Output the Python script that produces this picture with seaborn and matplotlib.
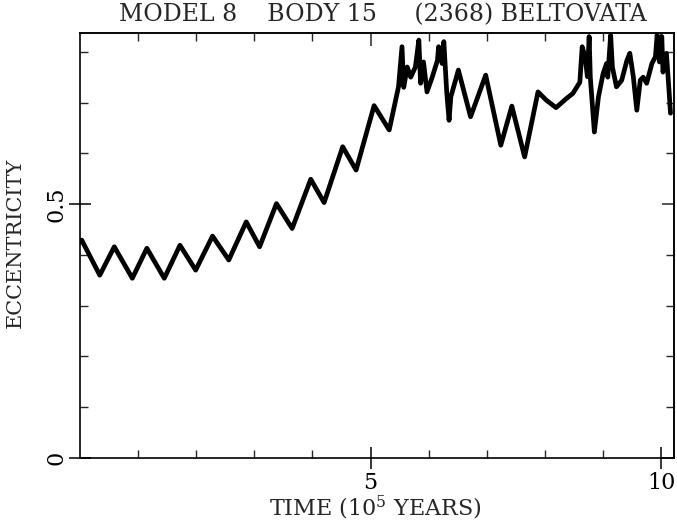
import numpy as np
import pandas as pd
import matplotlib
matplotlib.use("Agg")
import matplotlib.pyplot as plt
import seaborn as sns

# ---- data ----
time = [0.00, 0.03, 0.34, 0.59, 0.90, 1.15, 1.45, 1.72, 1.99, 2.28, 2.56, 2.86,
        3.09, 3.38, 3.65, 3.97, 4.20, 4.52, 4.75, 5.06, 5.32, 5.48, 5.54, 5.57,
        5.63, 5.69, 5.77, 5.83, 5.86, 5.91, 5.97, 6.06, 6.15, 6.17, 6.23, 6.26,
        6.31, 6.35, 6.38, 6.51, 6.72, 6.98, 7.24, 7.43, 7.65, 7.88, 8.02, 8.19,
        8.37, 8.48, 8.60, 8.64, 8.69, 8.73, 8.76, 8.78, 8.85, 8.92, 9.00, 9.06,
        9.08, 9.13, 9.16, 9.23, 9.32, 9.41, 9.46, 9.52, 9.58, 9.64, 9.69, 9.75,
        9.84, 9.90, 9.93, 9.97, 10.01, 10.03, 10.09, 10.13, 10.16]
eccentricity = [0.425, 0.429, 0.360, 0.416, 0.354, 0.413, 0.354, 0.419, 0.370, 0.437, 0.390, 0.465,
                0.416, 0.501, 0.452, 0.549, 0.503, 0.613, 0.567, 0.694, 0.646, 0.731, 0.810, 0.730,
                0.770, 0.750, 0.770, 0.823, 0.738, 0.780, 0.721, 0.750, 0.783, 0.810, 0.777, 0.820,
                0.720, 0.665, 0.711, 0.764, 0.672, 0.754, 0.616, 0.693, 0.593, 0.721, 0.705, 0.690,
                0.708, 0.718, 0.740, 0.810, 0.790, 0.751, 0.830, 0.750, 0.642, 0.711, 0.757, 0.777,
                0.750, 0.833, 0.770, 0.731, 0.744, 0.783, 0.797, 0.751, 0.685, 0.744, 0.750, 0.738,
                0.777, 0.790, 0.833, 0.780, 0.830, 0.760, 0.797, 0.731, 0.679]

x_major = [5, 10]
x_major_labels = ["5", "10"]
x_minor = [1, 2, 3, 4, 6, 7, 8, 9]
y_major = [0.0, 0.5]
y_major_labels = ["0", "0.5"]
y_minor = [0.1, 0.2, 0.3, 0.4, 0.6, 0.7, 0.8]

title = "MODEL 8    BODY 15     (2368) BELTOVATA"
xlabel = r"TIME (10$^{\mathrm{5}}$ YEARS)"
ylabel = "ECCENTRICITY"

df = pd.DataFrame({"time": time, "ecc": eccentricity})

sns.set_theme(style="ticks")
plt.rcParams["font.family"] = ["DejaVu Serif"]
plt.rcParams["mathtext.fontset"] = "dejavuserif"

W, H = 677, 528
fig = plt.figure(figsize=(W / 100, H / 100), dpi=100)
ax = fig.add_axes([80 / W, 70 / H, 594 / W, 425 / H])

sns.lineplot(data=df, x="time", y="ecc", color="black", linewidth=3.4,
             sort=False, estimator=None, ax=ax)
for ln in ax.get_lines():
    ln.set_solid_joinstyle("round")

ax.set_xlim(0, 10.22)
ax.set_ylim(0, 0.837)

# bottom / left: labelled axes, major ticks crossing the frame
ax.set_xticks(x_major)
ax.set_xticklabels(x_major_labels)
ax.set_xticks(x_minor, minor=True)
ax.set_yticks(y_major)
ax.set_yticklabels(y_major_labels, rotation=90, va="center")
ax.set_yticks(y_minor, minor=True)
ax.tick_params(which="major", direction="inout", length=16, width=1.1,
               labelsize=16, pad=2, colors="black")
ax.tick_params(which="minor", direction="in", length=6, width=1.0)
ax.tick_params(axis="y", which="major", pad=1)

# top / right: inward ticks only
top = ax.secondary_xaxis("top")
top.set_xticks(x_major)
top.set_xticks(x_minor, minor=True)
top.tick_params(which="major", direction="in", length=9, width=1.1, labeltop=False)
top.tick_params(which="minor", direction="in", length=6, width=1.0)
right = ax.secondary_yaxis("right")
right.set_yticks(y_major)
right.set_yticks(y_minor, minor=True)
right.tick_params(which="major", direction="in", length=9, width=1.1, labelright=False)
right.tick_params(which="minor", direction="in", length=6, width=1.0)

for s in ax.spines.values():
    s.set_linewidth(1.2)
    s.set_color("black")

ax.set_xlabel(xlabel, fontsize=16)
ax.set_ylabel(ylabel, fontsize=15)
ax.xaxis.set_label_coords(0.497, -0.118)
ax.xaxis.label.set_va("center")
ax.yaxis.set_label_coords(-0.109, 0.506)
ax.yaxis.label.set_va("center")

fig.text(383 / W, 1 - 15 / H, title, ha="center", va="center", fontsize=17)

fig.savefig("out.png", dpi=100, facecolor="white")
